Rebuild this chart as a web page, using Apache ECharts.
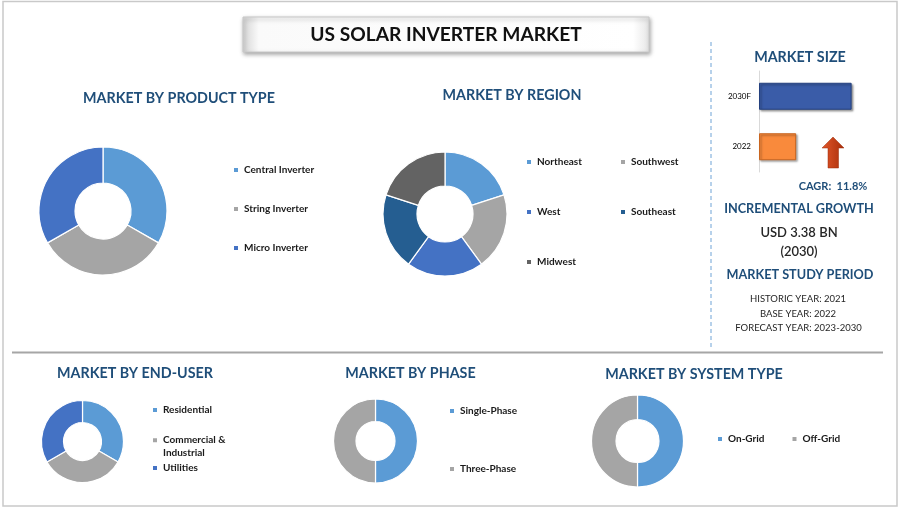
<!DOCTYPE html>
<html>
<head>
<meta charset="utf-8">
<script src="https://cdn.jsdelivr.net/npm/echarts@6/dist/echarts.min.js"></script>
<style>
html,body{margin:0;padding:0;background:#fff;}
#c{width:901px;height:508px;}
</style>
</head>
<body>
<div id="c"></div>
<script>
// ---- Data ----
const productTypes = ['Central Inverter', 'String Inverter', 'Micro Inverter'];
const productValues = [33.3, 33.4, 33.3];

const regions = ['Northeast', 'Southwest', 'West', 'Southeast', 'Midwest'];
const regionValues = [20, 20, 20, 20, 20];

const endUsers = ['Residential', 'Commercial & Industrial', 'Utilities'];
const endUserValues = [33.3, 33.4, 33.3];

const phases = ['Single-Phase', 'Three-Phase'];
const phaseValues = [50, 50];

const systemTypes = ['On-Grid', 'Off-Grid'];
const systemValues = [50, 50];

const sizeYears = ['2022', '2030F'];
const sizeValues = [2.3, 5.73]; // USD BN (estimated)

const cagrText = 'CAGR:  11.8%';
const incrementalText = ['USD 3.38 BN', '(2030)'];
const studyPeriod = ['HISTORIC YEAR: 2021', 'BASE YEAR: 2022', 'FORECAST YEAR: 2023-2030'];

// ---- Styles ----
const FONT = 'Lato, "Open Sans", sans-serif';
const TITLE_BLUE = '#1F4E79';
const pal = {
  lightBlue: '#5B9BD5', gray: '#A5A5A5', blue: '#4472C4', darkBlue: '#255E91', darkGray: '#636363'
};

const chart = echarts.init(document.getElementById('c'), null, {renderer: 'canvas'});

function mkData(names, vals, colors) {
  return names.map((n, i) => ({name: n, value: vals[i], itemStyle: {color: colors[i]}}));
}
function pie(center, radius, names, vals, colors) {
  return {
    type: 'pie', center: center, radius: radius, startAngle: 90, clockwise: true,
    label: {show: false}, labelLine: {show: false}, silent: true,
    itemStyle: {borderColor: '#fff', borderWidth: 1.2},
    emphasis: {disabled: true},
    data: mkData(names, vals, colors)
  };
}
const LEG_TEXT = {fontFamily: FONT, fontSize: 10, fontWeight: 'bold', color: '#1a1a1a', lineHeight: 12};
function legend(data, left, top, opts) {
  return Object.assign({
    data: data.map(d => ({name: d, icon: 'rect'})), left: left, top: top, orient: 'vertical',
    itemWidth: 6, itemHeight: 6, itemGap: 27, selectedMode: false, padding: 0,
    textStyle: LEG_TEXT
  }, opts || {});
}
function txt(x, y, s, size, color, weight, align) {
  return {type: 'text', x: x, y: y, silent: true, style: {
    text: s, fill: color, font: (weight || 'bold') + ' ' + size + 'px ' + FONT,
    align: align || 'center', verticalAlign: 'middle'}};
}

const option = {
  backgroundColor: '#fff',
  animation: false,
  grid: {left: 759, top: 71, width: 97, height: 101, containLabel: false},
  xAxis: {type: 'value', min: 0, max: 6, show: false},
  yAxis: {
    type: 'category', data: sizeYears,
    axisLine: {show: true, lineStyle: {color: '#D9D9D9', width: 1}},
    axisTick: {show: false},
    axisLabel: {fontFamily: FONT, fontSize: 8, color: '#000', margin: 8}
  },
  legend: [
    legend(productTypes, 232, 164, {itemGap: 27}),
    legend(['Northeast', 'West', 'Midwest'], 525, 156, {itemGap: 38}),
    legend(['Southwest', 'Southeast'], 619, 156, {itemGap: 38}),
    legend(['Residential'], 151, 404),
    legend(['Commercial & Industrial'], 151, 421.5, {formatter: () => '\nCommercial &\nIndustrial', textStyle: Object.assign({}, LEG_TEXT, {lineHeight: 12.5})}),
    legend(['Utilities'], 151, 462),
    legend(phases, 448, 405, {itemGap: 46}),
    legend(systemTypes, 716, 433, {orient: 'horizontal', itemGap: 26})
  ],
  series: [
    pie([103, 211], [28, 64], productTypes, productValues, [pal.lightBlue, pal.gray, pal.blue]),
    pie([445, 214], [28, 62], regions, regionValues, [pal.lightBlue, pal.gray, pal.blue, pal.darkBlue, pal.darkGray]),
    pie([82.5, 441.5], [19, 41], endUsers, endUserValues, [pal.lightBlue, pal.gray, pal.blue]),
    pie([375.5, 441], [19.5, 42], phases, phaseValues, [pal.lightBlue, pal.gray]),
    pie([637.5, 441], [21.5, 46], systemTypes, systemValues, [pal.lightBlue, pal.gray]),
    {
      type: 'bar', barWidth: 27, silent: true,
      data: sizeValues.map((v, i) => ({
        value: v,
        itemStyle: i === 0
          ? {color: '#F98A3C', borderColor: '#C9651F', borderWidth: 1, shadowColor: 'rgba(0,0,0,0.35)', shadowBlur: 2, shadowOffsetX: 1.5, shadowOffsetY: 1.5}
          : {color: '#3A5CA8', borderColor: '#24407E', borderWidth: 1, shadowColor: 'rgba(0,0,0,0.35)', shadowBlur: 2, shadowOffsetX: 1.5, shadowOffsetY: 1.5}
      }))
    }
  ],
  graphic: [
    // outer frame
    {type: 'rect', silent: true, shape: {x: 3, y: 1.5, width: 894, height: 504.5}, style: {fill: 'none', stroke: '#C9C9C9', lineWidth: 1.5}, z: -1},
    // title box
    {type: 'rect', silent: true, shape: {x: 243, y: 17, width: 406, height: 35},
      style: {
        fill: new echarts.graphic.LinearGradient(0, 0, 1, 0, [
          {offset: 0, color: '#D4D4D4'}, {offset: 0.04, color: '#FAFAFA'}, {offset: 0.96, color: '#FFFFFF'}, {offset: 1, color: '#E6E6E6'}
        ]),
        stroke: '#C8C8C8', lineWidth: 1, shadowColor: 'rgba(0,0,0,0.35)', shadowBlur: 4, shadowOffsetX: 1, shadowOffsetY: 2
      }},
    txt(446, 35, 'US SOLAR INVERTER MARKET', 19.2, '#111', 'bold'),
    // separators
    {type: 'line', silent: true, shape: {x1: 711, y1: 42, x2: 711, y2: 350}, style: {stroke: '#6FA3D6', lineWidth: 1, lineDash: [4, 3]}},
    {type: 'line', silent: true, shape: {x1: 12, y1: 352.5, x2: 883, y2: 352.5}, style: {stroke: '#A6A6A6', lineWidth: 2}},
    // section titles
    txt(179, 98, 'MARKET BY PRODUCT TYPE', 14.3, TITLE_BLUE),
    txt(512, 95, 'MARKET BY REGION', 14.3, TITLE_BLUE),
    txt(800, 57, 'MARKET SIZE', 14.3, TITLE_BLUE),
    txt(135, 373, 'MARKET BY END-USER', 14.3, TITLE_BLUE),
    txt(410.5, 373, 'MARKET BY PHASE', 14.3, TITLE_BLUE),
    txt(694, 374, 'MARKET BY SYSTEM TYPE', 14.3, TITLE_BLUE),
    // arrow
    {type: 'polygon', silent: true,
      shape: {points: [[833, 137], [844, 148], [838.5, 148], [838.5, 168], [828, 168], [828, 148], [822, 148]]},
      style: {fill: new echarts.graphic.LinearGradient(0, 0, 1, 0, [
        {offset: 0, color: '#E2572A'}, {offset: 1, color: '#A82E0A'}]),
        stroke: '#9A2A08', lineWidth: 0.5}},
    // right panel texts
    txt(833, 186, cagrText, 11, TITLE_BLUE),
    txt(799, 209, 'INCREMENTAL GROWTH', 12.7, TITLE_BLUE),
    txt(799, 233, incrementalText[0], 13, '#262626', '600'),
    txt(799, 252, incrementalText[1], 13, '#262626', '600'),
    txt(800, 275, 'MARKET STUDY PERIOD', 12.7, TITLE_BLUE),
    txt(798, 299, studyPeriod[0], 9.5, '#262626', 'normal'),
    txt(798, 314, studyPeriod[1], 9.5, '#262626', 'normal'),
    txt(798.5, 327.5, studyPeriod[2], 9.5, '#262626', 'normal')
  ]
};
chart.setOption(option);
</script>
</body>
</html>
